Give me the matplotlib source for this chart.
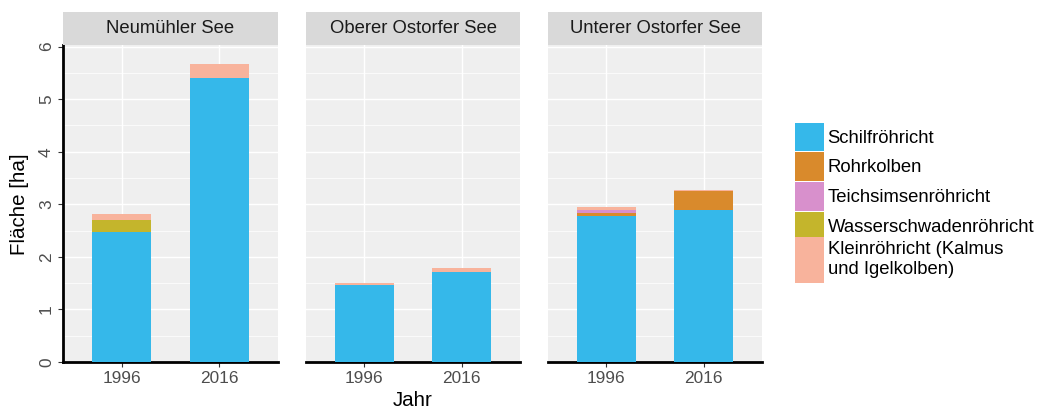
import matplotlib
matplotlib.use("Agg")
import matplotlib.pyplot as plt
from matplotlib.patches import Patch, Rectangle
from matplotlib.legend_handler import HandlerPatch
import numpy as np

plt.rcParams['font.family'] = ['Liberation Sans', 'DejaVu Sans']

lakes = ['Neumühler See', 'Oberer Ostorfer See', 'Unterer Ostorfer See']
years = ['1996', '2016']
categories = ['Schilfröhricht', 'Rohrkolben', 'Teichsimsenröhricht',
              'Wasserschwadenröhricht', 'Kleinröhricht (Kalmus\nund Igelkolben)']
# values per lake: [1996, 2016]
schilf = [[2.47, 5.41], [1.47, 1.71], [2.78, 2.90]]
rohrkolben = [[0.0, 0.0], [0.0, 0.0], [0.06, 0.36]]
teichsimsen = [[0.0, 0.0], [0.0, 0.0], [0.06, 0.0]]
wasserschwaden = [[0.24, 0.0], [0.0, 0.0], [0.0, 0.0]]
kleinroehricht = [[0.11, 0.26], [0.04, 0.07], [0.05, 0.02]]
series = [schilf, rohrkolben, teichsimsen, wasserschwaden, kleinroehricht]
colors = ['#35b8ea', '#d98a2c', '#d890cc', '#c4b52c', '#f8b39c']
yticks = [0, 1, 2, 3, 4, 5, 6]

W, H = 1038, 412
fig = plt.figure(figsize=(W / 100, H / 100), dpi=100)

panel_x = [(63, 278), (306, 520), (548, 762)]
y_top, y_bot = 45, 362
strip_top = 12

for i, lake in enumerate(lakes):
    x0, x1 = panel_x[i]
    ax = fig.add_axes([x0 / W, 1 - y_bot / H, (x1 - x0) / W, (y_bot - y_top) / H])
    ax.set_facecolor('#efefef')
    x = np.arange(len(years))
    bottom = np.zeros(len(years))
    for s, c in zip(series, colors):
        vals = np.array(s[i])
        ax.bar(x, vals, width=0.6, bottom=bottom, color=c, edgecolor='none', zorder=3)
        bottom += vals
    ax.set_xlim(-0.6, 1.6)
    ax.set_ylim(0, 6.03)
    ax.set_xticks(x)
    ax.set_xticklabels(years, fontsize=12.4, color='#4d4d4d')
    ax.set_yticks(yticks)
    ax.set_yticks(np.arange(0.5, 6, 1), minor=True)
    ax.grid(True, which='major', color='white', lw=1.0, zorder=1)
    ax.grid(True, which='minor', axis='y', color='white', lw=0.5, zorder=1)
    for sp in ['top', 'right']:
        ax.spines[sp].set_visible(False)
    ax.spines['bottom'].set_color('black')
    ax.spines['bottom'].set_linewidth(2.0)
    ax.tick_params(axis='x', length=3.5, width=0.8, color='#333333', pad=3)
    if i == 0:
        ax.spines['left'].set_color('black')
        ax.spines['left'].set_linewidth(2.0)
        ax.set_yticklabels([str(t) for t in yticks], fontsize=12.4, color='#4d4d4d',
                           rotation=90, va='center')
        ax.tick_params(axis='y', which='major', length=3.5, width=0.8, color='#333333', pad=3)
        ax.tick_params(axis='y', which='minor', length=0)
    else:
        ax.spines['left'].set_visible(False)
        ax.tick_params(axis='y', which='both', length=0, labelleft=False)
    # strip
    sax = fig.add_axes([x0 / W, 1 - y_top / H, (x1 - x0) / W, (y_top - strip_top) / H])
    sax.set_facecolor('#d9d9d9')
    sax.set_xticks([])
    sax.set_yticks([])
    for sp in sax.spines.values():
        sp.set_visible(False)
    sax.text(0.5, 0.5, lake, ha='center', va='center', fontsize=13.3,
             color='#1a1a1a', transform=sax.transAxes)

fig.text(412.5 / W, 1 - 401 / H, 'Jahr', ha='center', va='center', fontsize=14.8)
fig.text(20 / W, 1 - 204 / H, 'Fläche [ha]', ha='center', va='center',
         rotation=90, fontsize=14.8)


class TallHandler(HandlerPatch):
    def create_artists(self, legend, orig_handle, xdescent, ydescent, width,
                       height, fontsize, trans):
        h = height * getattr(orig_handle, '_scale', 1.0)
        gap = 0.035 * height
        p = Rectangle((-xdescent, -ydescent - (h - height) / 2 + gap / 2), width, h - gap,
                      facecolor=orig_handle.get_facecolor(), edgecolor='none',
                      transform=trans)
        return [p]


handles = []
for k, (c, lab) in enumerate(zip(colors, categories)):
    p = Patch(facecolor=c, edgecolor='none', label=lab)
    p._scale = 1.6 if k == len(categories) - 1 else 1.0
    handles.append(p)

leg = fig.legend(handles=handles, loc='upper left', bbox_to_anchor=(795 / W, 1 - 122 / H),
                 frameon=False, fontsize=13.3, handlelength=1.58, handleheight=2.1,
                 handletextpad=0.18, labelspacing=0.0, borderpad=0, borderaxespad=0,
                 handler_map={Patch: TallHandler()})
for t in leg.get_texts():
    t.set_linespacing(1.2)

fig.savefig('out.png', dpi=100)
